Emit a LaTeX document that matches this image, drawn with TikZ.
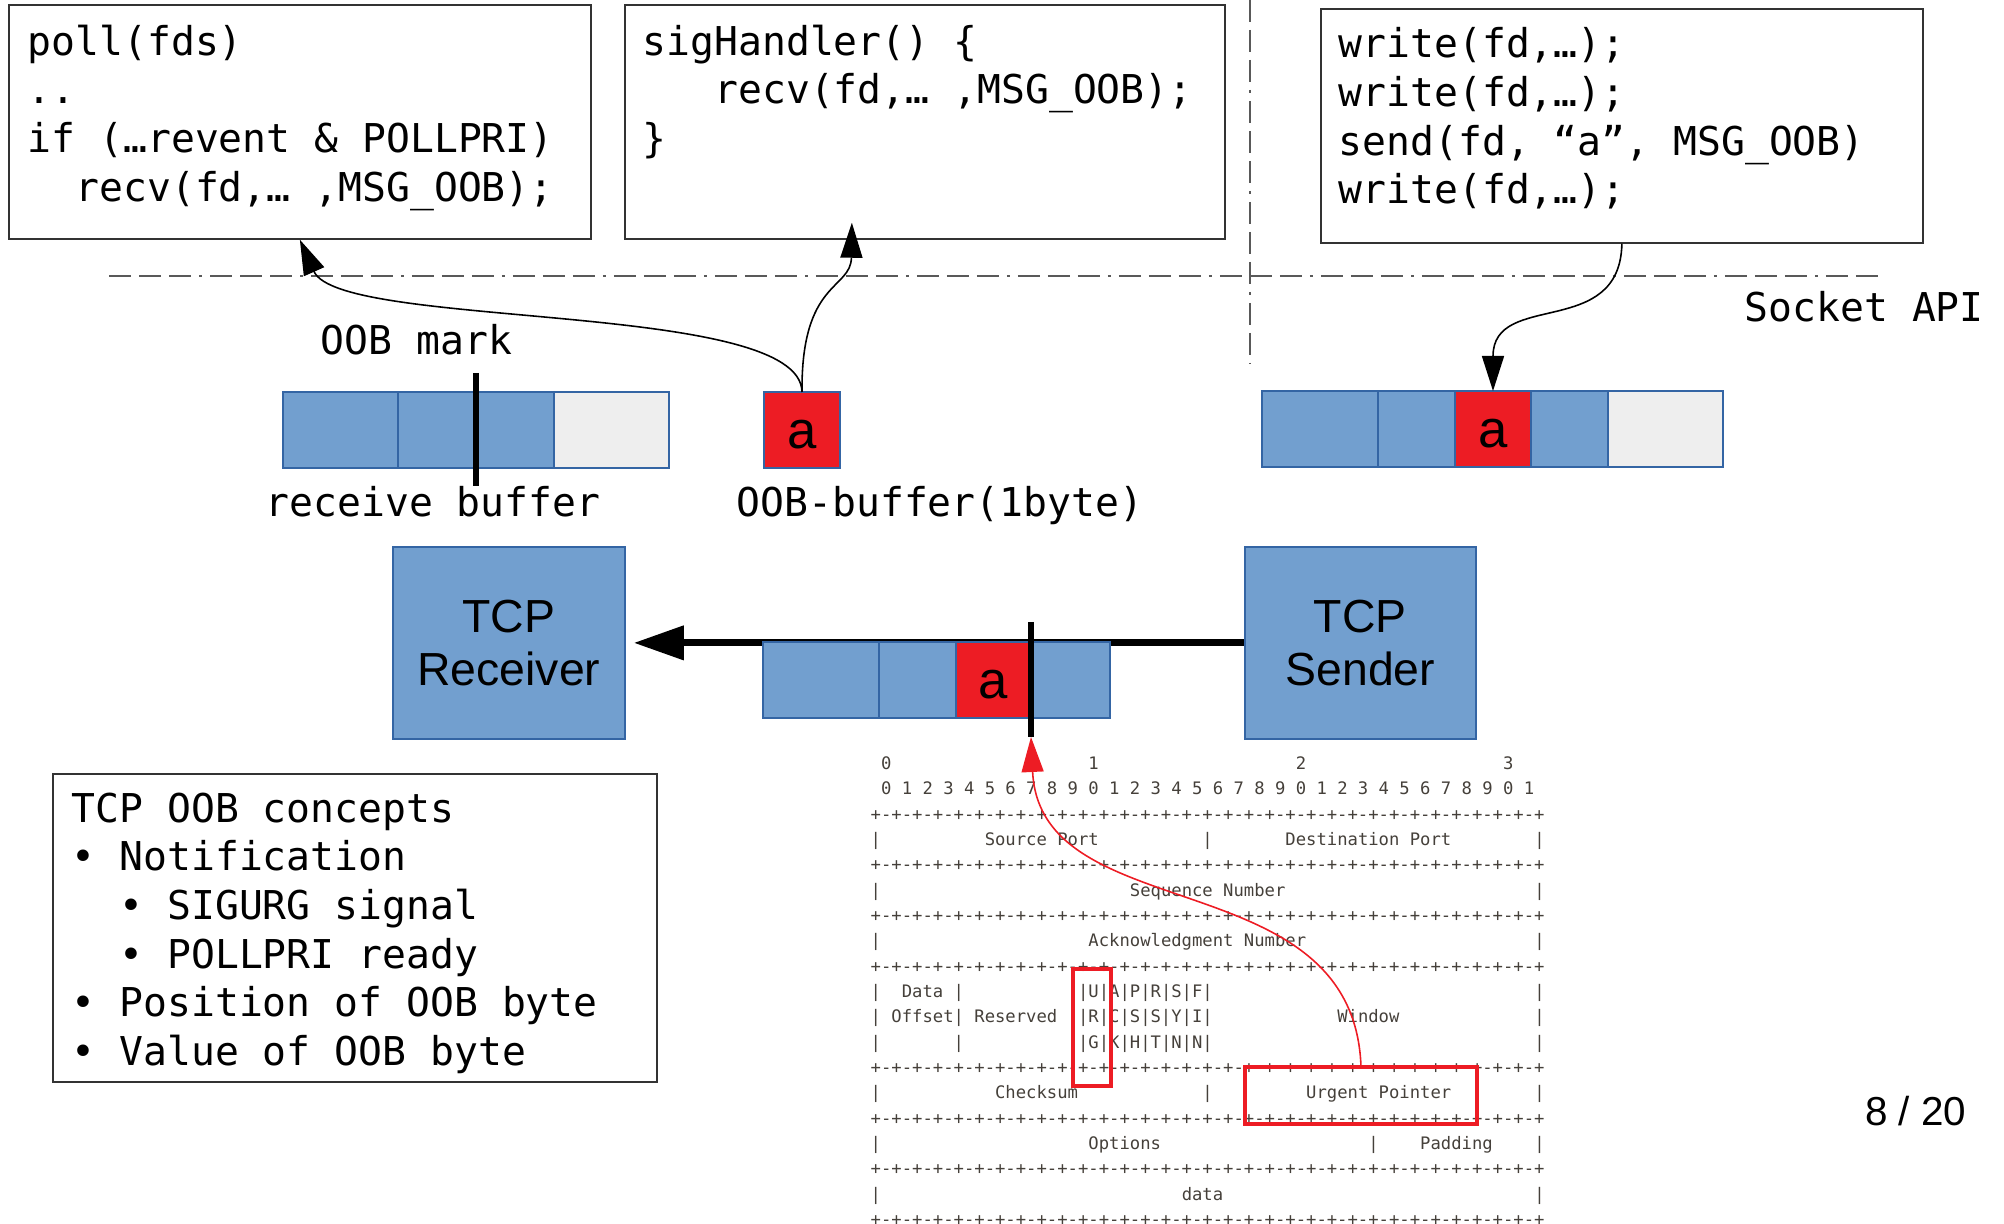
\documentclass[tikz,border=0pt]{standalone}
\usepackage{fontspec}
\setmainfont{Liberation Sans}
\newfontfamily\codefont{DejaVu Sans Mono}
\usetikzlibrary{positioning, arrows.meta}

\definecolor{cellblue}{HTML}{729FCF}
\definecolor{celledge}{HTML}{3465A4}
\definecolor{cellgray}{HTML}{EEEEEE}
\definecolor{oobred}{HTML}{ED1C24}
\definecolor{rfcgray}{HTML}{45403A}

\ExplSyntaxOn
\cs_new:Npn \rfcgap #1 { \prg_replicate:nn {#1} { \c_space_tl } }
\ExplSyntaxOff
\newcommand\rfcbits{+-+-+-+-}
\newcommand\rfcsep{\rfcbits\rfcbits\rfcbits\rfcbits\rfcbits\rfcbits\rfcbits\rfcbits+}
\newcommand\rfcA{\rfcgap{1}0\rfcgap{19}1\rfcgap{19}2\rfcgap{19}3}
\newcommand\rfcB{\rfcgap{1}0 1 2 3 4 5 6 7 8 9 0 1 2 3 4 5 6 7 8 9 0 1 2 3 4 5 6 7 8 9 0 1}
\newcommand\rfcC{|\rfcgap{10}Source Port\rfcgap{10}|\rfcgap{7}Destination Port\rfcgap{8}|}
\newcommand\rfcD{|\rfcgap{24}Sequence Number\rfcgap{24}|}
\newcommand\rfcE{|\rfcgap{20}Acknowledgment Number\rfcgap{22}|}
\newcommand\rfcF{|\rfcgap{2}Data\rfcgap{1}|\rfcgap{11}|U|A|P|R|S|F|\rfcgap{31}|}
\newcommand\rfcG{|\rfcgap{1}Offset|\rfcgap{1}Reserved\rfcgap{2}|R|C|S|S|Y|I|\rfcgap{12}Window\rfcgap{13}|}
\newcommand\rfcH{|\rfcgap{7}|\rfcgap{11}|G|K|H|T|N|N|\rfcgap{31}|}
\newcommand\rfcI{|\rfcgap{11}Checksum\rfcgap{12}|\rfcgap{9}Urgent Pointer\rfcgap{8}|}
\newcommand\rfcJ{|\rfcgap{20}Options\rfcgap{20}|\rfcgap{4}Padding\rfcgap{4}|}
\newcommand\rfcK{|\rfcgap{29}data\rfcgap{30}|}

\tikzset{
  codebox/.style={draw=black!80, line width=0.5pt, anchor=north west, inner sep=0pt},
  codetext/.style={font=\codefont\fontsize{11.3}{13.85}\selectfont\frenchspacing, align=left, anchor=north west, inner sep=0pt},
  monolabel/.style={font=\codefont\fontsize{11.3}{13.85}\selectfont, anchor=base west, inner sep=0pt},
  bcell/.style={draw=celledge, fill=cellblue, line width=0.5pt, minimum height=7.6mm, inner sep=0pt, outer sep=0pt},
  gcell/.style={bcell, fill=cellgray},
  rcell/.style={bcell, fill=oobred, text height=3.7mm, font=\fontsize{15}{15}\selectfont},
  tcpbox/.style={draw=celledge, fill=cellblue, line width=0.5pt, minimum height=19.2mm, anchor=north west, align=center, font=\fontsize{13.2}{15.1}\selectfont},
  flow/.style={-{Triangle[length=3.5mm,width=2.2mm]}, line width=0.45pt},
  urgflow/.style={flow, oobred},
  wire/.style={line width=2pt, -{Triangle[length=5mm,width=3.3mm]}},
  oobline/.style={line width=1.7pt},
  apiline/.style={draw=black!65, line width=0.4pt, dash pattern=on 2.2mm off 0.8mm on 2.2mm off 0.8mm on 2.2mm off 0.8mm on 0.3mm off 0.8mm},
  rfc/.style={font=\codefont\fontsize{4.9}{5}\selectfont\frenchspacing, text=rfcgray, anchor=base west, inner sep=0pt},
  urgbox/.style={draw=oobred, line width=1.1pt, anchor=north west, inner sep=0pt}
}

\begin{document}
\begin{tikzpicture}[x=0.1mm, y=-0.1mm]
\useasboundingbox (0,0) rectangle (2004,1224);

\draw[apiline] (109,276) -- (1879,276);
\draw[apiline] (1250,0) -- (1250,364);

\node[codebox, minimum width=58.2mm, minimum height=23.4mm] (poll) at (8,4) {};
\node[codetext] (polltext) at ([xshift=1.9mm,yshift=-2mm]poll.north west)
  {poll(fds)\\..\\if (…revent \& POLLPRI)\\\phantom{xx}recv(fd,… ,MSG\_OOB);};
\node[codebox, minimum width=60mm, minimum height=23.4mm] (sig) at (624,4) {};
\node[codetext] (sigtext) at ([xshift=1.8mm,yshift=-2mm]sig.north west)
  {sigHandler() \{\\\phantom{xxx}recv(fd,… ,MSG\_OOB);\\\}};
\node[codebox, minimum width=60.2mm, minimum height=23.4mm] (write) at (1320,8) {};
\node[codetext] (writetext) at ([xshift=1.8mm,yshift=-1.9mm]write.north west)
  {write(fd,…);\\write(fd,…);\\send(fd, “a”, MSG\_OOB)\\write(fd,…);};

\node[monolabel] (api) at (1744,322) {Socket API};

\node[bcell, minimum width=11.5mm, anchor=north west] (rb1) at (283,392) {};
\node[bcell, minimum width=15.6mm, right=0pt of rb1] (rb2) {};
\node[gcell, minimum width=11.5mm, right=0pt of rb2] (rb3) {};
\draw[oobline] ([xshift=7.8mm,yshift=1.9mm]rb2.north west) -- ([xshift=7.8mm,yshift=-1.8mm]rb2.south west);
\node[monolabel] (marklabel) at (320,355) {OOB mark};
\node[monolabel] (rblabel) at (265,517) {receive buffer};

\node[rcell, minimum width=7.6mm, anchor=north west] (oob) at (764,392) {a};
\node[monolabel] (ooblabel) at (736,517) {OOB-buffer(1byte)};

\node[bcell, minimum width=11.6mm, anchor=north west] (sb1) at (1262,391) {};
\node[bcell, minimum width=7.7mm, right=0pt of sb1] (sb2) {};
\node[rcell, minimum width=7.6mm, right=0pt of sb2] (sb3) {a};
\node[bcell, minimum width=7.7mm, right=0pt of sb3] (sb4) {};
\node[gcell, minimum width=11.5mm, right=0pt of sb4] (sb5) {};

\node[tcpbox, minimum width=23.2mm] (receiver) at (392,546) {TCP\\Receiver};
\node[tcpbox, minimum width=23.1mm] (sender) at (1244,546) {TCP\\Sender};
\draw[wire, shorten >=0.8mm] (sender) -- (receiver);

\node[bcell, minimum width=11.6mm, anchor=north west] (pk1) at (763,642) {};
\node[bcell, minimum width=7.7mm, right=0pt of pk1] (pk2) {};
\node[rcell, minimum width=7.5mm, right=0pt of pk2] (pk3) {a};
\node[bcell, minimum width=7.9mm, right=0pt of pk3] (pk4) {};
\coordinate (pmtop) at ([yshift=2mm]pk4.north west);
\coordinate (pmark) at ([yshift=-1.9mm]pk4.south west);
\draw[oobline] (pmtop) -- (pmark);

\draw[flow] (oob.north) .. controls (801,300) and (340,330) .. (poll.south);
\coordinate (sigin) at ([xshift=-7.3mm,yshift=1.7mm]sig.south);
\draw[flow] (oob.north) .. controls (801,280) and (851,290) .. (sigin);
\draw[flow] (write.south) .. controls (1620,340) and (1493,290) .. (sb3.north);

\node[codebox, minimum width=60.4mm, minimum height=30.8mm] (concepts) at (52,773) {};
\node[codetext] (conceptstext) at ([xshift=1.9mm,yshift=-1.9mm]concepts.north west)
  {TCP OOB concepts\\• Notification\\\phantom{xx}• SIGURG signal\\\phantom{xx}• POLLPRI ready\\• Position of OOB byte\\• Value of OOB byte};

\foreach \row [count=\i] in {\rfcA,\rfcB,\rfcsep,\rfcC,\rfcsep,\rfcD,\rfcsep,\rfcE,\rfcsep,\rfcF,\rfcG,\rfcH,\rfcsep,\rfcI,\rfcsep,\rfcJ,\rfcsep,\rfcK,\rfcsep}
  \node[rfc] (rfc\i) at (870,{769.5+25.34*(\i-1)}) {\mbox{}\row};

\node[urgbox, minimum width=3.8mm, minimum height=11.7mm] (urgflag) at (1071,967) {};
\node[urgbox, minimum width=23.2mm, minimum height=5.7mm] (urgptr) at (1243,1065) {};
\draw[urgflow] (urgptr.north) .. controls (1352,860) and (1040,930) .. (pmark);

\node[font=\fontsize{11.5}{12}\selectfont, anchor=base east, inner sep=0pt] (pageno) at (1967,1126) {8 / 20};
\end{tikzpicture}
\end{document}
